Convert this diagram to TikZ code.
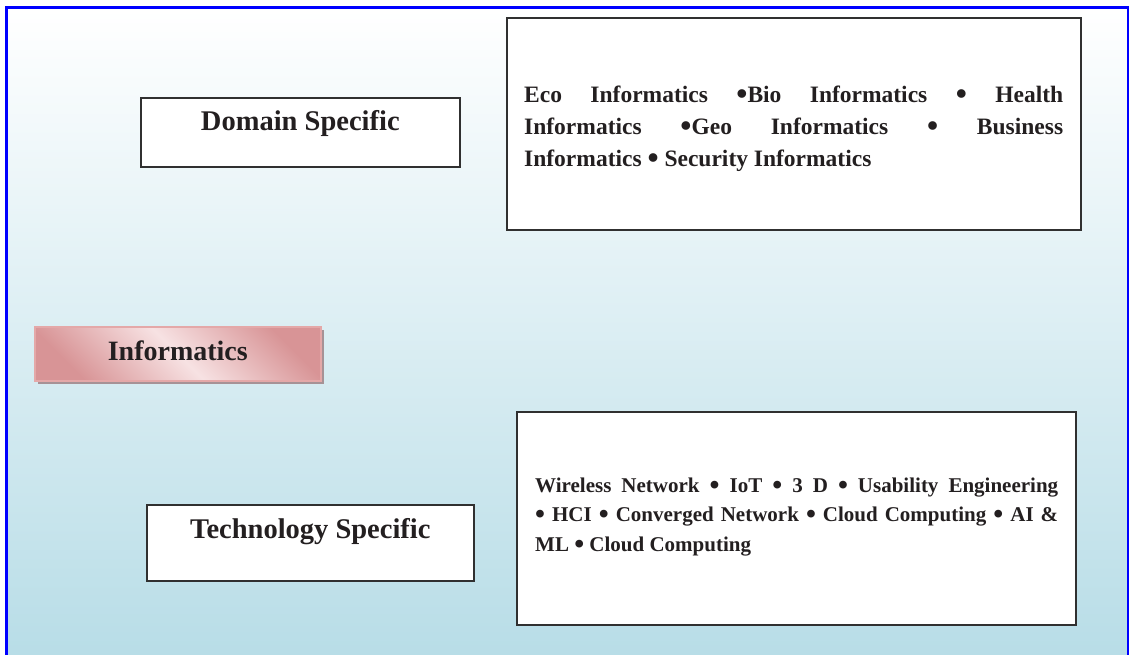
\documentclass[tikz,border=0pt]{standalone}
\usepackage{fontspec}
\usepackage{graphicx}
\setmainfont{Liberation Serif}
\usetikzlibrary{positioning,shadows}

\definecolor{frameblue}{RGB}{0,0,255}
\definecolor{skyblue}{RGB}{184,221,231}
\definecolor{pinkdark}{RGB}{216,148,150}
\definecolor{pinklight}{RGB}{247,226,227}
\definecolor{pinkedge}{RGB}{228,168,168}
\definecolor{shadowgray}{RGB}{166,146,150}
\definecolor{edgegray}{RGB}{48,48,48}
\definecolor{inkblack}{RGB}{35,31,32}

\newcommand{\infobullet}{\raisebox{-0.1em}{\scalebox{1.35}{\textbullet}}}

\tikzset{
  box/.style={draw=edgegray, line width=1.6pt, fill=white, inner sep=0pt,
    anchor=north west, text=inkblack,
    font=\bfseries\fontsize{28.5}{32}\selectfont},
  panel/.style={draw=edgegray, line width=1.6pt, fill=white, inner sep=0pt,
    anchor=north west},
  listtext/.style={inner sep=0pt, anchor=base west, align=justify,
    text=inkblack}
}

\begin{document}
\begin{tikzpicture}[x=1pt, y=-1pt]

  \useasboundingbox (0,0) rectangle (1129,654);

  % background and frame
  \fill[top color=white, bottom color=skyblue] (8,9) rectangle (1129,654);
  \begin{scope}
    \clip (0,0) rectangle (1129,654);
    \draw[frameblue, line width=3pt] (6.5,670) |- (1128.5,7.5) -- (1128.5,670);
  \end{scope}

  % left column
  \node[box, minimum width=319pt, text height=33pt, text depth=36pt]
    (domain) at (140,97) {Domain Specific};
  \node[box, draw=pinkedge, minimum width=286pt, text height=34pt, text depth=20pt,
    left color=pinkdark, right color=pinkdark, middle color=pinklight,
    shading angle=135, font=\bfseries\fontsize{28}{32}\selectfont,
    drop shadow={shadow xshift=3pt, shadow yshift=-3pt, fill=shadowgray, opacity=1}]
    (info) at (34,326) {Informatics};
  \node[box, minimum width=327pt, text height=34pt, text depth=42pt]
    (tech) at (146,504) {Technology Specific};

  % right column
  \node[panel, minimum width=574pt, minimum height=212pt] (domainpanel) at (506,17) {};
  \node[listtext, text width=539pt, font=\bfseries\fontsize{23.5}{32}\selectfont]
    (domaintxt) at (524,102)
    {Eco Informatics \infobullet Bio Informatics \infobullet{} Health\linebreak
     Informatics \infobullet Geo Informatics \infobullet{} Business\linebreak
     Informatics \infobullet{} Security Informatics};

  \node[panel, minimum width=559pt, minimum height=213pt] (techpanel) at (516,411) {};
  \node[listtext, text width=523pt, font=\bfseries\fontsize{21}{29.5}\selectfont]
    (techtxt) at (535,492)
    {Wireless Network \infobullet{} IoT \infobullet{} 3 D \infobullet{} Usability Engineering\linebreak
     \infobullet{} HCI \infobullet{} Converged Network \infobullet{} Cloud Computing \infobullet{} AI \&\linebreak
     ML \infobullet{} Cloud Computing};

\end{tikzpicture}
\end{document}
